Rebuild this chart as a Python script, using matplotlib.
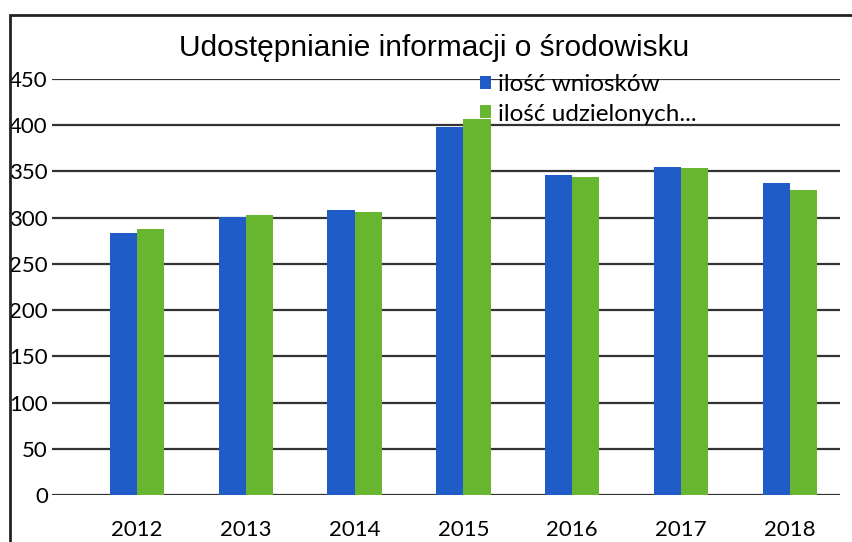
import matplotlib.pyplot as plt
import numpy as np
from matplotlib.patches import Rectangle

years = ['2012', '2013', '2014', '2015', '2016', '2017', '2018']
wnioski = [283, 301, 308, 398, 346, 355, 337]
udzielone = [288, 303, 306, 407, 344, 354, 330]
labels = ['ilość wniosków', 'ilość udzielonych...']

fig = plt.figure(figsize=(8.52, 5.42), dpi=100)
ax = fig.add_axes([52/852, 1-495/542, (840-52)/852, (495-79)/542])

x = np.arange(len(years))
w = 0.25
ax.bar(x - w/2, wnioski, w, color='#1f5cc8', label=labels[0], zorder=3)
ax.bar(x + w/2, udzielone, w, color='#68b530', label=labels[1], zorder=3)

ax.set_ylim(0, 450)
ax.set_xlim(-0.78, 6.46)
ax.set_yticks(range(0, 451, 50))
ax.set_xticks(x)
ax.set_xticklabels(years)
ax.yaxis.grid(True, color='#333333', linewidth=1.6, zorder=0)
ax.set_axisbelow(True)
for s in ax.spines.values():
    s.set_visible(False)
ax.tick_params(axis='both', length=0, labelsize=16)
ax.tick_params(axis='x', pad=18)
ax.tick_params(axis='y', pad=3)
for t in ax.get_xticklabels() + ax.get_yticklabels():
    t.set_family('Lato')

fig.text(434/852, 1-48/542, 'Udostępnianie informacji o środowisku',
         ha='center', va='center', fontsize=21.5, family='Liberation Sans')

ax.legend(loc='upper left', bbox_to_anchor=(480/852, 1-74/542),
          bbox_transform=fig.transFigure, frameon=False,
          prop={'family': 'Lato', 'size': 17.5}, handlelength=0.45,
          handleheight=0.45, handletextpad=0.3, labelspacing=0.35,
          borderpad=0, borderaxespad=0)

# chart border (scanned box)
fig.add_artist(Rectangle((10/852, -0.05), 1.0, 1-15/542+0.05,
                         transform=fig.transFigure, fill=False,
                         edgecolor='#222222', linewidth=2))

fig.savefig('out.png', dpi=100)
